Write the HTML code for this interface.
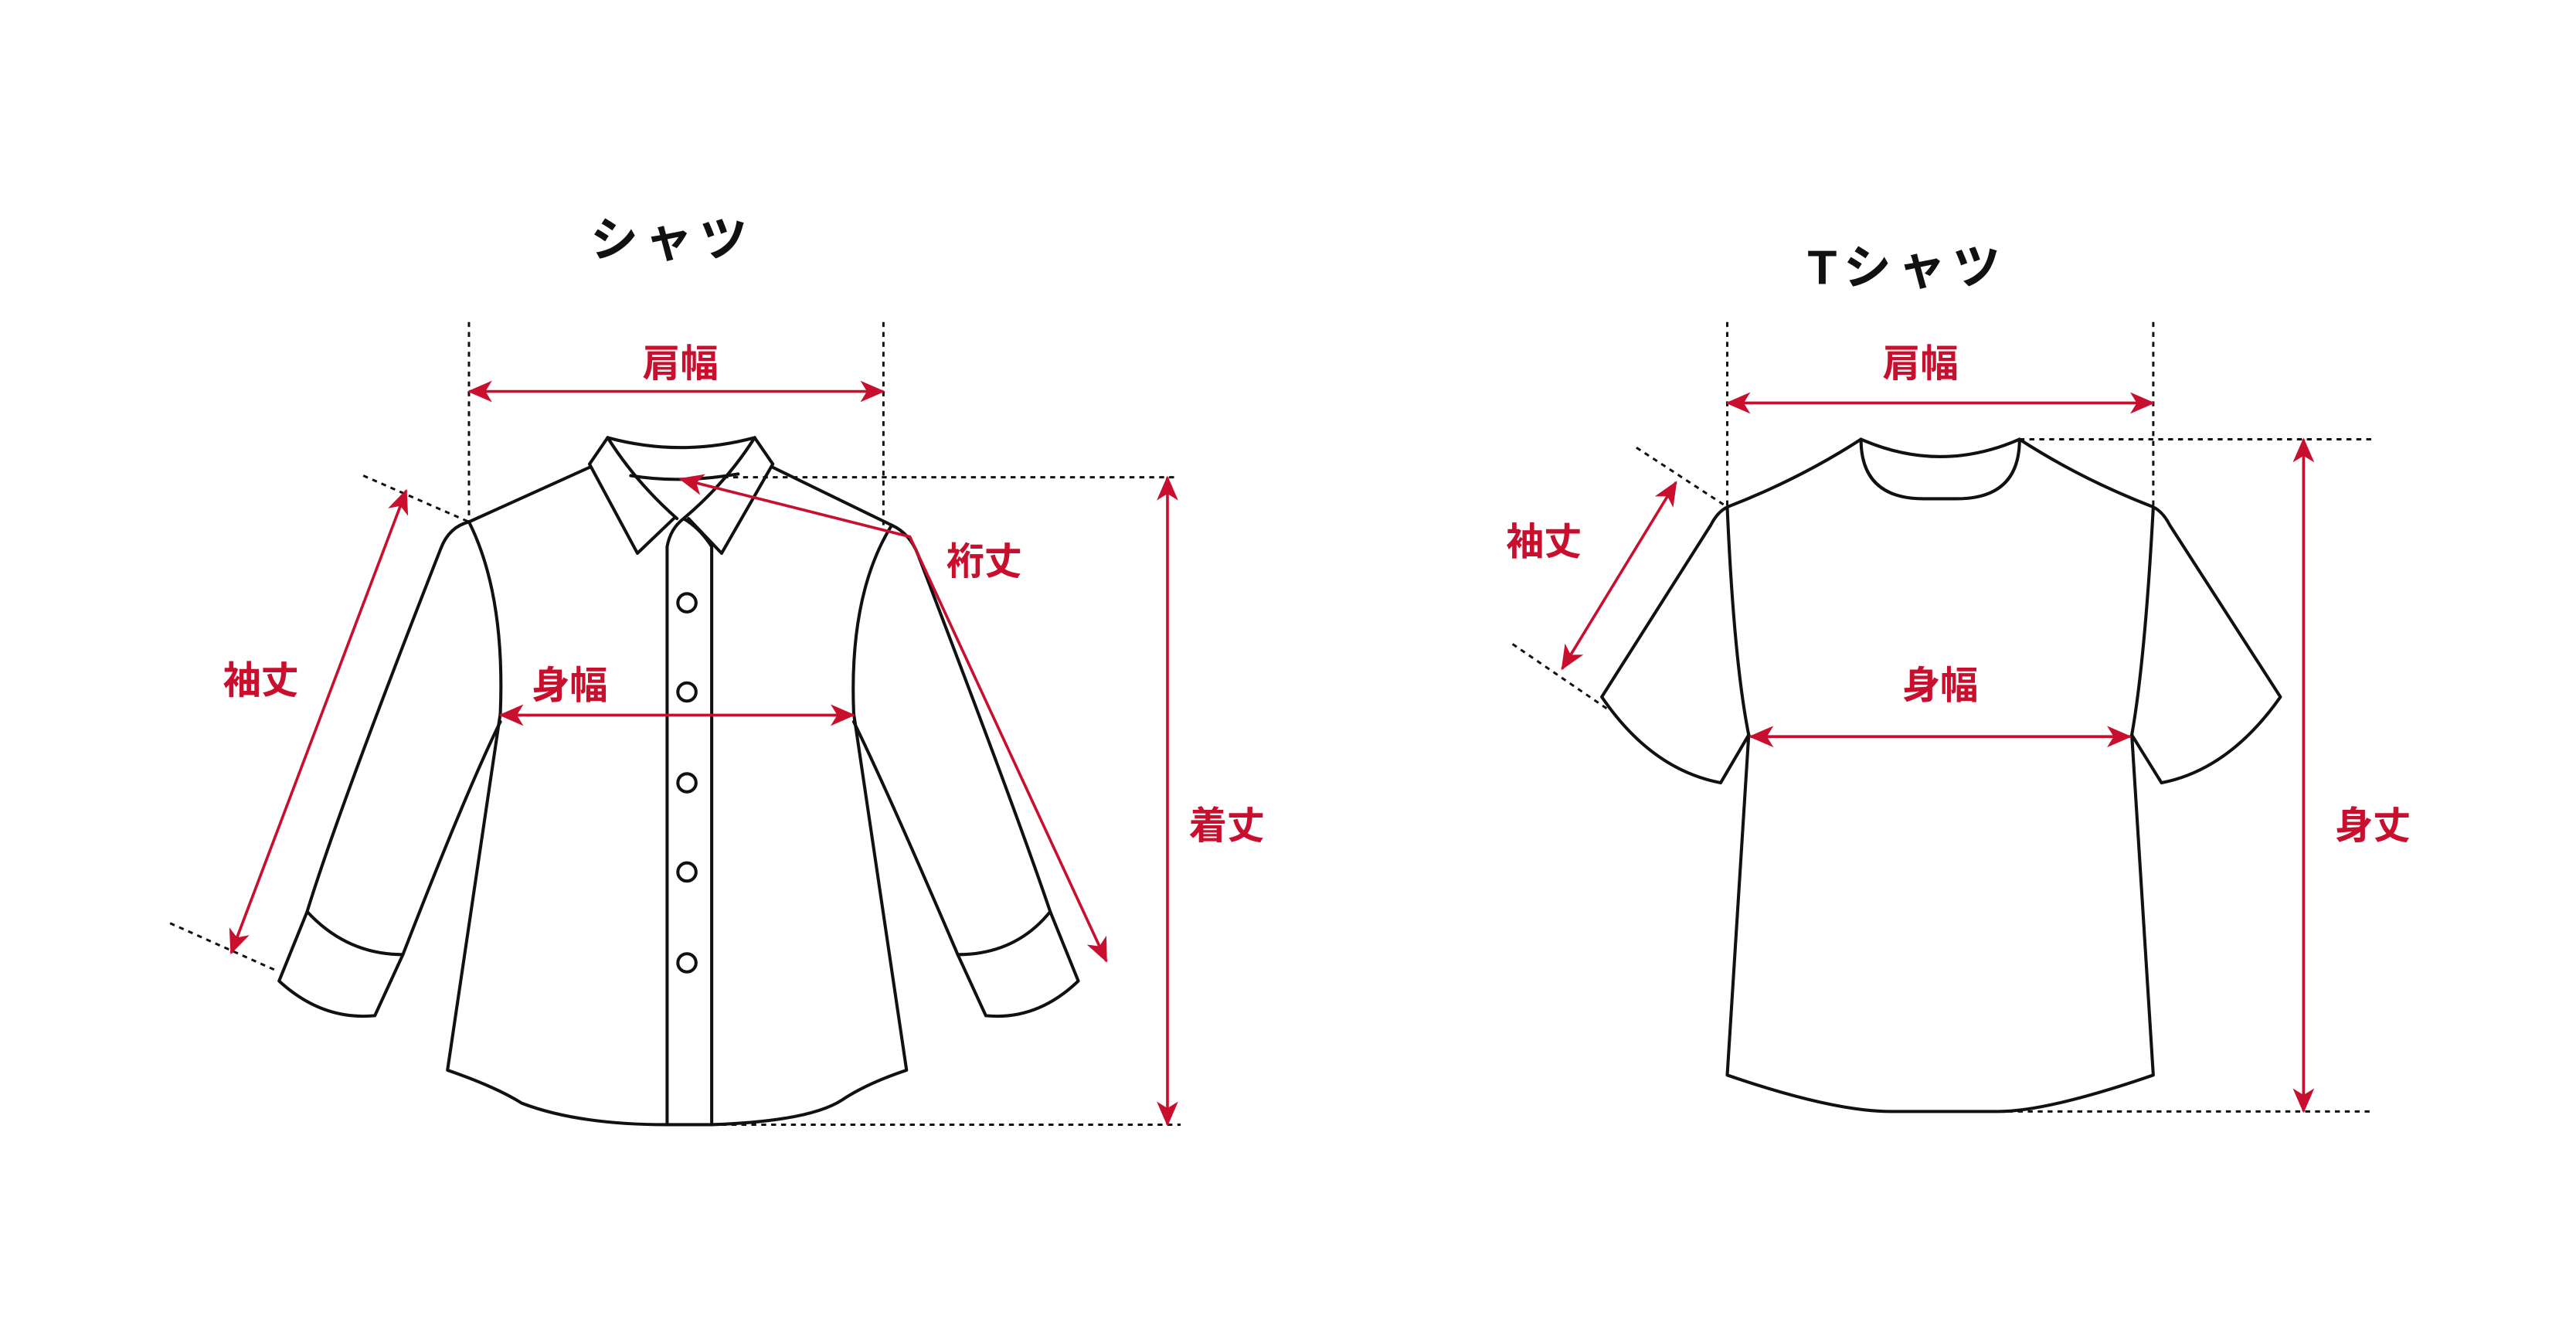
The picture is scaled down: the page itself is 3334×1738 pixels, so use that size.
<!DOCTYPE html>
<html><head><meta charset="utf-8"><style>
html,body{margin:0;padding:0;background:#fff;}
svg{display:block;}
text{font-family:"Liberation Sans","Noto Sans CJK JP",sans-serif;}
</style></head><body>
<svg width="3334" height="1738" viewBox="0 0 1560 813.2" preserveAspectRatio="none" xmlns="http://www.w3.org/2000/svg">
<defs>
<marker id="ah" viewBox="-20 -10 22 20" refX="0" refY="0" markerWidth="22" markerHeight="20" markerUnits="userSpaceOnUse" orient="auto-start-reverse" style="overflow:visible">
<path d="M1,0 L-14,-6.5 L-10,0 L-14,6.5 Z" fill="#c8102e"/>
</marker>
</defs>
<rect width="1560" height="813.2" fill="#fff"/>

<text x="407" y="155" font-size="29" text-anchor="middle" fill="#111" font-weight="bold" letter-spacing="4">シャツ</text>
<text x="1155" y="172" font-size="29" text-anchor="middle" fill="#111" font-weight="bold" letter-spacing="4">Tシャツ</text>

<g stroke="#111" stroke-width="1.4" stroke-dasharray="3,3" fill="none">
<line x1="284" y1="195" x2="284" y2="316"/>
<line x1="535" y1="195" x2="535" y2="318"/>
<line x1="432" y1="289" x2="712" y2="289"/>
<line x1="431" y1="681" x2="715" y2="681"/>
<line x1="220" y1="288" x2="284" y2="316"/>
<line x1="103" y1="559" x2="168" y2="588"/>
<line x1="1046" y1="195" x2="1046" y2="312"/>
<line x1="1304" y1="195" x2="1304" y2="312"/>
<line x1="1223" y1="266" x2="1437" y2="266"/>
<line x1="1210" y1="673" x2="1437" y2="673"/>
<line x1="991" y1="271" x2="1046" y2="307"/>
<line x1="916" y1="390" x2="973" y2="429"/>
</g>

<g stroke="#111" stroke-width="1.9" fill="none" stroke-linejoin="round" stroke-linecap="round">
<path d="M368,265 Q412,277 457,265"/>
<path d="M382,288 Q412,293 447,287"/>
<path d="M368,265 L357,281 L386,335 L408,314"/>
<path d="M368,265 Q385,292 410,314"/>
<path d="M457,265 L468,281 L437,335 L417,314"/>
<path d="M457,265 Q440,292 414,314"/>
<path d="M404,681 L404,331 Q406,320 414,314 Q424,320 431,331 L431,681"/>
<path d="M357,283 L284,316"/>
<path d="M468,283 L540,318"/>
<path d="M284,316 Q306,360 303,432 L271,648 Q300,658 316,668 Q350,681 404,681 L431,681 Q490,679 510,666 Q525,656 549,648 L517,432 Q514,360 540,318"/>
<path d="M284,316 Q272,319 267,332 Q205,490 186,552 L169,594 Q195,618 227,615 L244,578 Q210,578 186,552"/>
<path d="M303,437 Q282,480 244,578"/>
<path d="M540,318 Q551,323 556,336 Q615,490 636,552 L653,594 Q628,618 597,615 L580,578 Q615,578 636,552"/>
<path d="M517,437 Q538,480 580,578"/>
<circle cx="416" cy="365" r="5.5"/>
<circle cx="416" cy="419" r="5.5"/>
<circle cx="416" cy="474" r="5.5"/>
<circle cx="416" cy="528" r="5.5"/>
<circle cx="416" cy="583" r="5.5"/>
</g>

<g stroke="#111" stroke-width="1.9" fill="none" stroke-linejoin="round" stroke-linecap="round">
<path d="M1127,266 Q1175,287 1223,266"/>
<path d="M1127,266 Q1127,302 1165,302 L1185,302 Q1223,302 1223,266"/>
<path d="M1127,266 Q1090,290 1046,307"/>
<path d="M1223,266 Q1260,290 1304,307"/>
<path d="M1046,307 Q1040,310 1036,318 L970,422 Q1000,466 1042,474 L1059,445"/>
<path d="M1046,307 Q1050,400 1059,445 L1046,651 Q1110,673 1145,673 L1210,673 Q1240,673 1304,651 L1291,445 Q1299,400 1304,307"/>
<path d="M1304,307 Q1310,310 1314,318 L1381,422 Q1350,466 1309,474 L1291,445"/>
</g>

<g stroke="#c8102e" stroke-width="1.7" fill="none">
<line x1="284" y1="237" x2="535" y2="237" marker-start="url(#ah)" marker-end="url(#ah)"/>
<line x1="707" y1="289" x2="707" y2="681" marker-start="url(#ah)" marker-end="url(#ah)"/>
<polyline points="412,290 551,325 670,582" marker-start="url(#ah)" marker-end="url(#ah)"/>
<line x1="246" y1="297" x2="140" y2="577" marker-start="url(#ah)" marker-end="url(#ah)"/>
<line x1="303" y1="433" x2="517" y2="433" marker-start="url(#ah)" marker-end="url(#ah)"/>
<line x1="1046" y1="244" x2="1304" y2="244" marker-start="url(#ah)" marker-end="url(#ah)"/>
<line x1="1395" y1="266" x2="1395" y2="673" marker-start="url(#ah)" marker-end="url(#ah)"/>
<line x1="1060" y1="446" x2="1290" y2="446" marker-start="url(#ah)" marker-end="url(#ah)"/>
<line x1="1015" y1="292" x2="946" y2="405" marker-start="url(#ah)" marker-end="url(#ah)"/>
</g>

<g fill="#c8102e" font-size="23" text-anchor="middle" font-weight="bold">
<text x="412" y="228">肩幅</text>
<text x="596" y="348">裄丈</text>
<text x="158" y="420">袖丈</text>
<text x="345" y="423">身幅</text>
<text x="743" y="508">着丈</text>
<text x="1163" y="228">肩幅</text>
<text x="935" y="336">袖丈</text>
<text x="1175" y="423">身幅</text>
<text x="1437" y="508">身丈</text>
</g>
</svg>
</body></html>
